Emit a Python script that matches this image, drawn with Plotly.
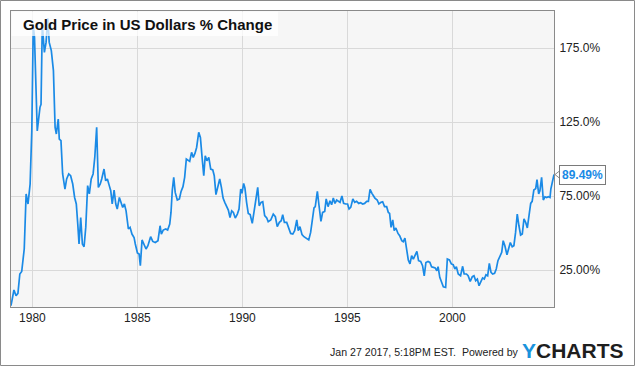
import plotly.graph_objects as go

# ---------------- data ----------------
years = [
    1978.98, 1979.12, 1979.22, 1979.31, 1979.40, 1979.49, 1979.61, 1979.70, 1979.79, 1979.89,
    1979.97, 1980.04, 1980.10, 1980.23, 1980.36, 1980.41, 1980.47, 1980.57, 1980.65, 1980.73,
    1980.80, 1980.90, 1981.00, 1981.08, 1981.14, 1981.23, 1981.28, 1981.36, 1981.44, 1981.55,
    1981.63, 1981.73, 1981.82, 1981.92, 1982.01, 1982.09, 1982.16, 1982.22, 1982.30, 1982.38,
    1982.46, 1982.54, 1982.63, 1982.71, 1982.80, 1982.89, 1982.97, 1983.06, 1983.14, 1983.23,
    1983.30, 1983.41, 1983.49, 1983.57, 1983.66, 1983.73, 1983.80, 1983.89, 1983.97, 1984.04,
    1984.14, 1984.23, 1984.30, 1984.38, 1984.46, 1984.57, 1984.65, 1984.74, 1984.84, 1984.90,
    1985.00, 1985.08, 1985.14, 1985.22, 1985.31, 1985.41, 1985.50, 1985.63, 1985.73, 1985.85,
    1985.98, 1986.08, 1986.14, 1986.23, 1986.35, 1986.44, 1986.54, 1986.60, 1986.66, 1986.73,
    1986.80, 1986.90, 1987.00, 1987.08, 1987.17, 1987.25, 1987.33, 1987.42, 1987.49, 1987.58,
    1987.66, 1987.74, 1987.82, 1987.92, 1988.00, 1988.08, 1988.16, 1988.23, 1988.31, 1988.40,
    1988.49, 1988.59, 1988.66, 1988.74, 1988.84, 1988.92, 1989.00, 1989.08, 1989.16, 1989.25,
    1989.33, 1989.41, 1989.49, 1989.57, 1989.66, 1989.76, 1989.84, 1989.92, 1989.98, 1990.06,
    1990.12, 1990.20, 1990.28, 1990.37, 1990.47, 1990.55, 1990.65, 1990.73, 1990.80, 1990.89,
    1990.97, 1991.06, 1991.16, 1991.23, 1991.35, 1991.47, 1991.57, 1991.66, 1991.76, 1991.85,
    1991.92, 1992.00, 1992.11, 1992.20, 1992.30, 1992.40, 1992.49, 1992.59, 1992.66, 1992.74,
    1992.84, 1992.93, 1993.03, 1993.16, 1993.25, 1993.33, 1993.41, 1993.47, 1993.57, 1993.65,
    1993.74, 1993.82, 1993.92, 1993.99, 1994.08, 1994.17, 1994.25, 1994.33, 1994.41, 1994.49,
    1994.57, 1994.65, 1994.74, 1994.82, 1994.92, 1995.01, 1995.08, 1995.16, 1995.26, 1995.35,
    1995.44, 1995.54, 1995.63, 1995.73, 1995.82, 1995.92, 1996.00, 1996.08, 1996.17, 1996.31,
    1996.42, 1996.50, 1996.60, 1996.68, 1996.77, 1996.87, 1996.95, 1997.01, 1997.08, 1997.16,
    1997.23, 1997.31, 1997.41, 1997.49, 1997.59, 1997.66, 1997.74, 1997.82, 1997.90, 1997.98,
    1998.06, 1998.14, 1998.23, 1998.31, 1998.39, 1998.49, 1998.58, 1998.66, 1998.74, 1998.84,
    1998.93, 1999.01, 1999.10, 1999.18, 1999.26, 1999.32, 1999.40, 1999.49, 1999.57, 1999.68,
    1999.76, 1999.86, 1999.95, 2000.04, 2000.12, 2000.19, 2000.28, 2000.39, 2000.49, 2000.56,
    2000.67, 2000.75, 2000.85, 2000.95, 2001.03, 2001.11, 2001.19, 2001.27, 2001.36, 2001.44,
    2001.52, 2001.60, 2001.68, 2001.76, 2001.84, 2001.92, 2002.01, 2002.09, 2002.17, 2002.27,
    2002.35, 2002.42, 2002.50, 2002.60, 2002.68, 2002.76, 2002.85, 2002.93, 2003.01, 2003.09,
    2003.17, 2003.25, 2003.33, 2003.41, 2003.49, 2003.57, 2003.65, 2003.73, 2003.80, 2003.88,
    2003.97, 2004.03, 2004.11, 2004.17, 2004.25, 2004.33, 2004.41, 2004.49, 2004.57, 2004.65,
    2004.69, 2004.77, 2004.84,
]

pct_change = [
    0.9, 11.5, 7.6, 9.2, 22.3, 24.0, 39.2, 76.4, 69.6, 83.0,
    119.0, 190.0, 182.0, 119.0, 134.9, 137.0, 191.0, 172.0, 178.8, 195.0,
    178.8, 173.2, 159.7, 121.4, 116.9, 127.0, 113.5, 112.4, 89.9, 79.7,
    86.5, 89.9, 88.7, 83.1, 74.0, 69.6, 56.0, 42.6, 60.5, 42.6,
    40.7, 53.8, 82.0, 76.4, 86.5, 89.9, 101.1, 121.4, 80.8, 83.1,
    86.5, 93.2, 85.3, 86.5, 82.0, 78.6, 69.6, 79.0, 69.6, 66.2,
    74.0, 70.7, 67.3, 69.6, 65.0, 52.7, 53.8, 49.3, 47.0, 42.6,
    36.5, 35.8, 27.9, 45.3, 42.6, 39.2, 41.4, 47.5, 44.3, 43.6,
    44.8, 54.9, 49.3, 52.0, 52.7, 52.0, 56.1, 63.9, 78.6, 87.6,
    77.4, 72.3, 73.0, 78.1, 81.3, 87.6, 100.0, 99.3, 98.4, 104.5,
    101.1, 103.8, 107.8, 118.0, 114.6, 101.1, 88.7, 102.2, 98.8, 101.1,
    93.2, 92.6, 88.7, 75.9, 82.0, 86.5, 80.8, 73.6, 70.7, 67.8,
    65.5, 60.5, 65.0, 63.9, 60.1, 62.8, 66.2, 79.7, 76.8, 83.5,
    80.4, 70.7, 63.2, 62.4, 56.5, 63.9, 71.8, 80.8, 68.4, 70.7,
    71.2, 61.7, 60.1, 57.6, 58.8, 62.8, 61.0, 54.3, 57.2, 58.3,
    62.4, 57.2, 57.2, 53.8, 49.7, 49.3, 51.6, 58.8, 51.6, 54.3,
    48.9, 47.5, 46.6, 45.3, 50.4, 58.3, 66.9, 67.8, 78.1, 68.4,
    57.8, 63.9, 64.6, 73.0, 67.8, 71.8, 69.1, 73.6, 70.0, 72.3,
    71.4, 70.7, 75.0, 70.0, 69.6, 69.6, 66.2, 67.3, 73.0, 70.7,
    71.4, 70.0, 70.5, 69.6, 70.0, 71.4, 71.4, 79.5, 76.8, 73.6,
    72.3, 69.6, 70.7, 71.1, 67.8, 67.8, 63.9, 63.2, 53.8, 58.8,
    51.6, 53.4, 49.7, 48.2, 44.8, 44.1, 46.6, 38.5, 31.8, 29.1,
    34.7, 32.4, 34.7, 37.6, 31.3, 30.8, 27.9, 21.1, 30.1, 30.8,
    30.1, 27.2, 26.8, 26.4, 24.5, 27.2, 20.0, 16.6, 13.7, 13.2,
    32.4, 31.8, 29.1, 28.6, 25.7, 27.2, 22.3, 21.1, 27.5, 22.3,
    22.3, 21.1, 17.3, 20.5, 21.1, 17.8, 18.9, 14.4, 17.3, 19.6,
    18.9, 21.8, 21.1, 29.5, 23.4, 22.3, 22.7, 25.7, 31.3, 34.0,
    36.9, 44.8, 41.4, 35.3, 39.2, 43.6, 40.7, 41.4, 50.4, 62.8,
    54.9, 48.6, 49.3, 59.5, 57.2, 53.4, 61.7, 70.0, 71.4, 79.0,
    80.0, 86.0, 76.4, 78.6, 87.6, 72.3, 74.5, 74.0, 74.5, 74.0,
    79.7, 84.2, 89.49,
]

x_tick_vals = [1980, 1985, 1990, 1995, 2000]
x_tick_text = ["1980", "1985", "1990", "1995", "2000"]
y_tick_vals = [25, 75, 125, 175]
y_tick_text = ["25.00%", "75.00%", "125.0%", "175.0%"]
y_range = [0, 200]

title_text = "Gold Price in US Dollars % Change"
footer_text = "Jan 27 2017, 5:18PM EST.  Powered by"
brand_first = "Y"
brand_rest = "CHARTS"

# ---------------- layout geometry ----------------
W, H = 635, 366
ML, MR, MT, MB = 11, 81, 11, 59
PW, PH = W - ML - MR, H - MT - MB

def px_x(p):  # pixel x -> paper x
    return (p - ML) / PW

def px_y(p):  # pixel y (from top) -> paper y
    return 1 - (p - MT) / PH

LINE_COLOR = "#1a8ae6"
FONT = "Liberation Sans, Arial, sans-serif"

fig = go.Figure()
fig.add_trace(go.Scatter(
    x=years, y=pct_change, mode="lines",
    line=dict(color=LINE_COLOR, width=1.7),
    hoverinfo="skip", showlegend=False,
))

last_val = pct_change[-1]

shapes = [
    # translucent title backdrop
    dict(type="rect", xref="paper", yref="paper",
         x0=px_x(11.5), x1=px_x(278), y0=px_y(36), y1=px_y(11.5),
         fillcolor="rgba(255,255,255,0.72)", line=dict(width=0), layer="above"),
    # outer frame around the whole picture
    dict(type="rect", xref="paper", yref="paper",
         x0=px_x(0.5), x1=px_x(634.5), y0=px_y(365.5), y1=px_y(0.5),
         line=dict(color="#8a8a8a", width=1), fillcolor="rgba(0,0,0,0)"),
    # small chevron pointing at the last value
    dict(type="path", xref="paper", xsizemode="pixel", xanchor=1,
         yref="y", ysizemode="pixel", yanchor=last_val,
         path="M 6 -4 L 1 0 L 6 4", line=dict(color="#8a8a8a", width=1)),
]

annotations = [
    dict(text="<b>" + title_text + "</b>", xref="paper", yref="paper",
         x=px_x(21), y=px_y(24), xanchor="left", yanchor="middle",
         showarrow=False, font=dict(family=FONT, size=15, color="#111111")),
    dict(text=f"<b>{last_val:.2f}%</b>", xref="paper", yref="y",
         x=1, y=last_val, xanchor="left", yanchor="middle", xshift=5,
         showarrow=False, bgcolor="white", bordercolor="#7a7a7a",
         borderwidth=1, borderpad=2,
         font=dict(family=FONT, size=12, color=LINE_COLOR)),
    dict(text=footer_text, xref="paper", yref="paper",
         x=px_x(521), y=px_y(352), xanchor="right", yanchor="middle",
         showarrow=False, font=dict(family=FONT, size=10.6, color="#222222")),
    dict(text=f"<b><span style='color:#1a93dc'>{brand_first}</span>{brand_rest}</b>",
         xref="paper", yref="paper",
         x=px_x(626), y=px_y(350), xanchor="right", yanchor="middle",
         showarrow=False, font=dict(family=FONT, size=21, color="#1e1e1e")),
]

fig.update_layout(
    width=W, height=H,
    margin=dict(l=ML, r=MR, t=MT, b=MB, pad=0),
    paper_bgcolor="white", plot_bgcolor="#f6f6f6",
    font=dict(family=FONT, size=12, color="#222222"),
    hovermode=False, showlegend=False,
    shapes=shapes, annotations=annotations,
    xaxis=dict(range=[years[0], years[-1]], tickvals=x_tick_vals, ticktext=x_tick_text,
               showgrid=True, gridcolor="#d9d9d9", gridwidth=1, zeroline=False,
               showline=True, mirror=True, linecolor="#8a8a8a", linewidth=1,
               ticks="", tickfont=dict(size=12, color="#222222")),
    yaxis=dict(range=y_range, tickvals=y_tick_vals, ticktext=y_tick_text, side="right",
               showgrid=True, gridcolor="#d9d9d9", gridwidth=1, zeroline=False,
               showline=True, mirror=True, linecolor="#8a8a8a", linewidth=1,
               ticks="", ticklabelstandoff=2, tickfont=dict(size=12, color="#222222")),
)

fig.write_html(
    "out.html",
    config={"displayModeBar": False},
    post_script="document.body.style.margin='0';document.body.style.overflow='hidden';",
)
